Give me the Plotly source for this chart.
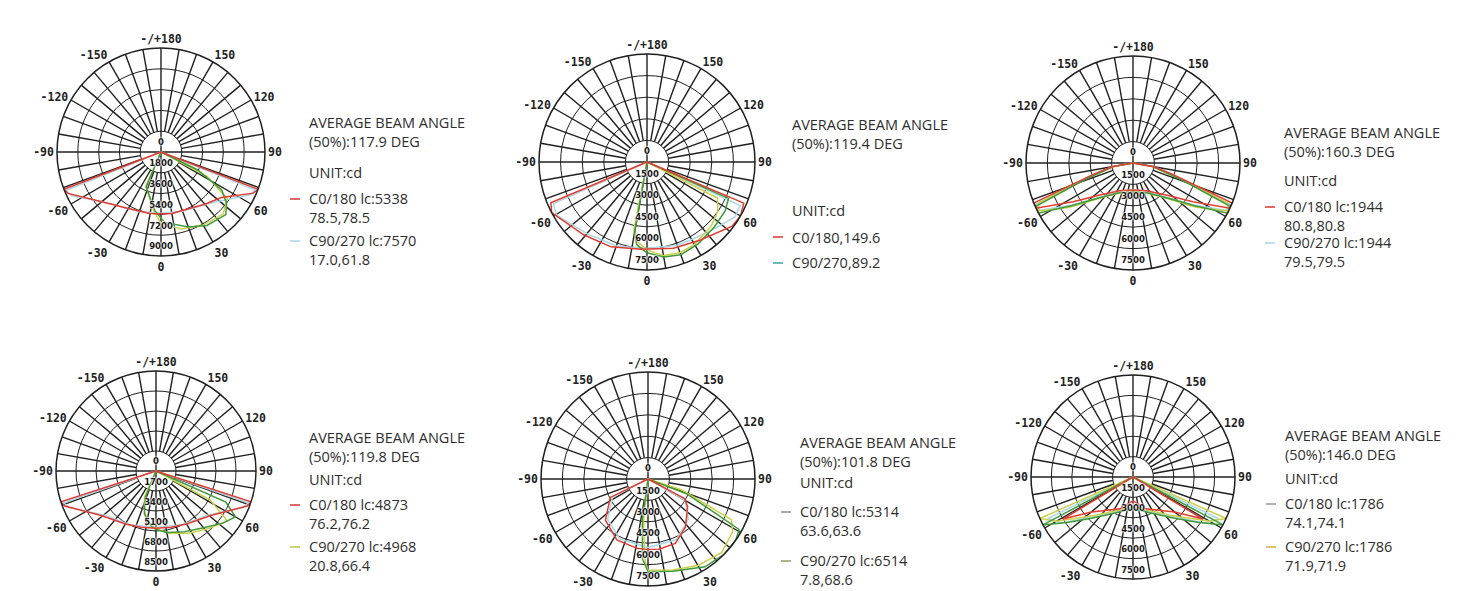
import plotly.graph_objects as go

# the page body has an 8px margin, so the figure is drawn 8px in from the window corner
OFF = 8
W, H = 1484 - OFF, 591 - OFF

# ---------------- data ----------------
ang_tick_vals = [0, 30, 60, 90, 120, 150, 180, 210, 240, 270, 300, 330]
ang_tick_text = ["0", "30", "60", "90", "120", "150", "-/+180", "-150", "-120", "-90", "-60", "-30"]
ang_tick_text_low = ["", "30", "60", "90", "120", "150", "-/+180", "-150", "-120", "-90", "-60", "-30"]

ring_steps = [1800, 1500, 1500, 1700, 1500, 1500]
ring_labels_1 = ["1800", "3600", "5400", "7200", "9000"]
ring_labels_2 = ["1500", "3000", "4500", "6000", "7500"]
ring_labels_3 = ["1500", "3000", "4500", "6000", "7500"]
ring_labels_4 = ["1700", "3400", "5100", "6800", "8500"]
ring_labels_5 = ["1500", "3000", "4500", "6000", "7500"]
ring_labels_6 = ["1500", "3000", "4500", "6000", "7500"]

# chart 1
red1_t = [-90, -69, -66, -50, -30, -10, 0, 10, 25, 40, 53, 66, 69, 90]
red1_r = [0, 9000, 8800, 6700, 5650, 5400, 5340, 5400, 5450, 5900, 6550, 8750, 9000, 0]
cyan1_t = [-90, -68, -64, -45, -20, 0, 20, 45, 64, 68, 90]
cyan1_r = [0, 8900, 8600, 6300, 5500, 5300, 5450, 6200, 8500, 8800, 0]
green1_t = [-90, -23, -6, 3, 20, 32, 46, 52, 58, 64, 90]
green1_r = [0, 3300, 5100, 6100, 6900, 7500, 7800, 7200, 6200, 3500, 0]
yellow1_t = [-90, -24, -8, 0, 15, 30, 45, 55, 62, 90]
yellow1_r = [0, 3200, 5000, 6200, 6900, 7300, 7600, 7000, 4500, 0]

# chart 2
red2_t = [-90, -67, -62, -41, -23, -4, 17, 34, 53, 60, 67, 90]
red2_r = [0, 7250, 7500, 6700, 6400, 6080, 6270, 6560, 7400, 7500, 7300, 0]
cyan2_t = [-90, -66, -60, -40, -20, 0, 20, 40, 58, 65, 90]
cyan2_r = [0, 7100, 7300, 6500, 6200, 6000, 6150, 6450, 7200, 7150, 0]
green2_t = [-90, -10, -7, 0, 10, 20, 32, 46, 58, 66, 90]
green2_r = [0, 5000, 5800, 6300, 6700, 6850, 6700, 6500, 6400, 6200, 0]
yellow2_t = [-90, -11, -8, 0, 10, 20, 30, 45, 55, 63, 90]
yellow2_r = [0, 4800, 5500, 6100, 6600, 6700, 6600, 6300, 6000, 5500, 0]

# chart 3
red3_t = [-90, -80, -74, -68, -65, -57, -46, -26, 0, 26, 46, 57, 65, 68, 74, 80, 90]
red3_r = [0, 1500, 2900, 7500, 7500, 5000, 3230, 2160, 1900, 2160, 3230, 5000, 7500, 7500, 2900, 1500, 0]
cyan3_t = [-90, -80, -73, -67, -63, -55, -40, -20, 0, 20, 40, 55, 63, 67, 73, 80, 90]
cyan3_r = [0, 1450, 3000, 7400, 7300, 5100, 3000, 2100, 1850, 2100, 3000, 5100, 7300, 7400, 3000, 1450, 0]
green3_t = [-90, -80, -71, -66, -62, -55, -45, -25, 0, 25, 45, 55, 62, 66, 71, 80, 90]
green3_r = [0, 1400, 3600, 7500, 7500, 5200, 3500, 2300, 2050, 2300, 3500, 5200, 7500, 7500, 3600, 1400, 0]
yellow3_t = [-90, -80, -72, -67, -63, -55, -40, -20, 0, 20, 40, 55, 63, 67, 72, 80, 90]
yellow3_r = [0, 1250, 3400, 7200, 7400, 5400, 3100, 2200, 2000, 2200, 3100, 5400, 7400, 7200, 3400, 1250, 0]

# chart 4
red4_t = [-90, -72, -69, -51, -30, -15, 0, 15, 30, 51, 69, 72, 90]
red4_r = [0, 8500, 8300, 6000, 5200, 4950, 4873, 4950, 5200, 6000, 8300, 8500, 0]
cyan4_t = [-90, -71, -67, -50, -25, 0, 25, 50, 67, 71, 90]
cyan4_r = [0, 8300, 8000, 5800, 5050, 4800, 5050, 5800, 8000, 8300, 0]
green4_t = [-90, -22, -15, -5, 0, 10, 25, 40, 52, 60, 66, 90]
green4_r = [0, 2500, 3800, 4700, 4968, 5300, 5700, 6300, 7200, 7800, 6500, 0]
yellow4_t = [-90, -24, -16, -6, 0, 12, 28, 42, 55, 62, 90]
yellow4_r = [0, 2400, 3600, 4600, 4900, 5400, 6000, 6600, 7400, 5200, 0]

# chart 5
red5_t = [-90, -64, -46, -27, -9, 0, 9, 23, 38, 55, 62, 90]
red5_r = [0, 2940, 4150, 4800, 4920, 4950, 4980, 4900, 4270, 3390, 2900, 0]
cyan5_t = [-90, -63, -45, -25, 0, 25, 45, 60, 90]
cyan5_r = [0, 2800, 4000, 4650, 4800, 4700, 4000, 3000, 0]
green5_t = [-90, -8, -4, 0, 15, 33, 45, 55, 61, 69, 90]
green5_r = [0, 2800, 5600, 6500, 6700, 7340, 7500, 7500, 7300, 2950, 0]
yellow5_t = [-90, -6, -2, 0, 15, 30, 45, 58, 64, 72, 90]
yellow5_r = [0, 3000, 5800, 6400, 6600, 7000, 7300, 7000, 6500, 2500, 0]

# chart 6
red6_t = [-90, -59, -50, -22, 0, 22, 50, 59, 90]
red6_r = [0, 6000, 4000, 2520, 1760, 2520, 4000, 6000, 0]
cyan6_t = [-90, -64, -57, -45, -22, 0, 22, 45, 57, 64, 90]
cyan6_r = [0, 7000, 6200, 4100, 2700, 2000, 2700, 4100, 6200, 7000, 0]
green6_t = [-90, -62, -55, -45, -25, 0, 25, 45, 55, 62, 90]
green6_r = [0, 7500, 5800, 4300, 2900, 2300, 2900, 4300, 5800, 7500, 0]
yellow6_t = [-90, -66, -60, -45, -25, 0, 25, 45, 60, 66, 90]
yellow6_r = [0, 7500, 6500, 4000, 2700, 2200, 2700, 4000, 6500, 7500, 0]

# text blocks (each entry is one block of one or two lines)
beam_1 = ["AVERAGE BEAM ANGLE<br>(50%):117.9 DEG", "UNIT:cd", "C0/180 lc:5338<br>78.5,78.5", "C90/270 lc:7570<br>17.0,61.8"]
beam_2 = ["AVERAGE BEAM ANGLE<br>(50%):119.4 DEG", "UNIT:cd", "C0/180,149.6", "C90/270,89.2"]
beam_3 = ["AVERAGE BEAM ANGLE<br>(50%):160.3 DEG", "UNIT:cd", "C0/180 lc:1944<br>80.8,80.8", "C90/270 lc:1944<br>79.5,79.5"]
beam_4 = ["AVERAGE BEAM ANGLE<br>(50%):119.8 DEG", "UNIT:cd", "C0/180 lc:4873<br>76.2,76.2", "C90/270 lc:4968<br>20.8,66.4"]
beam_5 = ["AVERAGE BEAM ANGLE<br>(50%):101.8 DEG", "UNIT:cd", "C0/180 lc:5314<br>63.6,63.6", "C90/270 lc:6514<br>7.8,68.6"]
beam_6 = ["AVERAGE BEAM ANGLE<br>(50%):146.0 DEG", "UNIT:cd", "C0/180 lc:1786<br>74.1,74.1", "C90/270 lc:1786<br>71.9,71.9"]

# ---------------- layout / style (window pixel positions) ----------------
centers = [(161, 152, 104), (647, 162, 108), (1133, 163, 107),
           (156, 471, 100), (648, 479, 107), (1133, 477, 102)]
text_x = [307, 790, 1282, 307, 798, 1283]
# y of the first line of each block
text_y = [
    [123, 173, 199, 241],
    [125, 210, 237, 263],
    [133, 180, 207, 243],
    [438, 479, 505, 547],
    [443, 482, 512, 561],
    [436, 478, 504, 547],
]
dash_blocks = [(2, 3), (2, 3), (2, 3), (2, 3), (2, 3), (2, 3)]
dash_colors = [("#e2362c", "#a9d6e6"), ("#e2362c", "#3aa8a0"), ("#e2362c", "#a9d6e6"),
               ("#e2362c", "#b8c24a"), ("#8a8a8a", "#9a9a5a"), ("#9a9a9a", "#d9a84a")]

RED, CYAN, GREEN, YELLOW = "#e53b2f", "#a8d8ea", "#3f9a3a", "#cfd04a"
GRID = "#1f1f1f"
TXT = "#2e2e2e"
FS = 14.5
LINE = FS * 1.3


def px(x):
    return (x - OFF) / W


def py(y):
    return 1 - (y - OFF) / H


charts = [
    (ring_labels_1, ang_tick_text, [(cyan1_t, cyan1_r, CYAN), (yellow1_t, yellow1_r, YELLOW), (green1_t, green1_r, GREEN), (red1_t, red1_r, RED)], beam_1),
    (ring_labels_2, ang_tick_text, [(cyan2_t, cyan2_r, CYAN), (yellow2_t, yellow2_r, YELLOW), (green2_t, green2_r, GREEN), (red2_t, red2_r, RED)], beam_2),
    (ring_labels_3, ang_tick_text, [(cyan3_t, cyan3_r, CYAN), (yellow3_t, yellow3_r, YELLOW), (green3_t, green3_r, GREEN), (red3_t, red3_r, RED)], beam_3),
    (ring_labels_4, ang_tick_text, [(cyan4_t, cyan4_r, CYAN), (yellow4_t, yellow4_r, YELLOW), (green4_t, green4_r, GREEN), (red4_t, red4_r, RED)], beam_4),
    (ring_labels_5, ang_tick_text_low, [(cyan5_t, cyan5_r, CYAN), (yellow5_t, yellow5_r, YELLOW), (green5_t, green5_r, GREEN), (red5_t, red5_r, RED)], beam_5),
    (ring_labels_6, ang_tick_text_low, [(cyan6_t, cyan6_r, CYAN), (yellow6_t, yellow6_r, YELLOW), (green6_t, green6_r, GREEN), (red6_t, red6_r, RED)], beam_6),
]

fig = go.Figure()
layout = dict(width=W, height=H, margin=dict(l=0, r=0, t=0, b=0),
              paper_bgcolor="white", plot_bgcolor="white", showlegend=False)
annotations = []
shapes = []

for i, (labels, tick_text, curves, beam) in enumerate(charts):
    key = "polar" if i == 0 else f"polar{i+1}"
    step = ring_steps[i]
    rmax = step * len(labels)
    cx, cy, R = centers[i]

    # spokes every 10 degrees (axes through the centre, others from the first ring)
    sr, st = [], []
    for a in range(0, 360, 10):
        start = 0 if a % 90 == 0 else step
        sr += [start, rmax, None]
        st += [a, a, None]
    fig.add_trace(go.Scatterpolar(r=sr, theta=st, mode="lines", subplot=key,
                                  line=dict(color=GRID, width=1.4), hoverinfo="skip"))
    # curves
    for t, r, col in curves:
        fig.add_trace(go.Scatterpolar(r=r, theta=t, mode="lines", subplot=key,
                                      line=dict(color=col, width=1.5)))
    # ring labels on the 0-degree line
    ring_vals = [step * (k + 1) for k in range(len(labels))]
    fig.add_trace(go.Scatterpolar(
        r=[v - 0.42 * step for v in ring_vals] + [0.45 * step],
        theta=[0] * len(labels) + [180],
        text=labels + ["0"], mode="text", subplot=key,
        textfont=dict(family="DejaVu Sans", size=8.5, color="#1a1a1a", weight="bold",
                      shadow="0 0 2px white, 0 0 2px white, 0 0 2px white")))

    layout[key] = dict(
        domain=dict(x=[px(cx - R), px(cx + R)], y=[max(0, py(cy + R)), min(1, py(cy - R))]),
        bgcolor="white",
        radialaxis=dict(range=[0, rmax], tickvals=ring_vals, showticklabels=False,
                        showline=False, ticks="", gridcolor=GRID, gridwidth=1.4),
        angularaxis=dict(rotation=-90, direction="counterclockwise",
                         tickmode="array", tickvals=ang_tick_vals, ticktext=tick_text,
                         showgrid=False, showline=True, linecolor=GRID, linewidth=1.5, ticks="",
                         tickfont=dict(family="DejaVu Sans Mono", size=11.5, color="#222", weight="bold")),
    )

    # text blocks
    for j, (block, yy) in enumerate(zip(beam, text_y[i])):
        n = block.count("<br>") + 1
        yc = yy + (n - 1) * LINE / 2
        annotations.append(dict(x=px(text_x[i]), y=py(yc), xref="paper", yref="paper",
                                text=block, showarrow=False, xanchor="left", yanchor="middle",
                                align="left", font=dict(family="Open Sans", size=FS, color=TXT)))
    for blk, col in zip(dash_blocks[i], dash_colors[i]):
        yy = text_y[i][blk]
        shapes.append(dict(type="line", xref="paper", yref="paper",
                           x0=px(text_x[i] - 17), x1=px(text_x[i] - 7), y0=py(yy), y1=py(yy),
                           line=dict(color=col, width=1.5)))

layout["annotations"] = annotations
layout["shapes"] = shapes
fig.update_layout(**layout)
fig.write_html("out.html")
